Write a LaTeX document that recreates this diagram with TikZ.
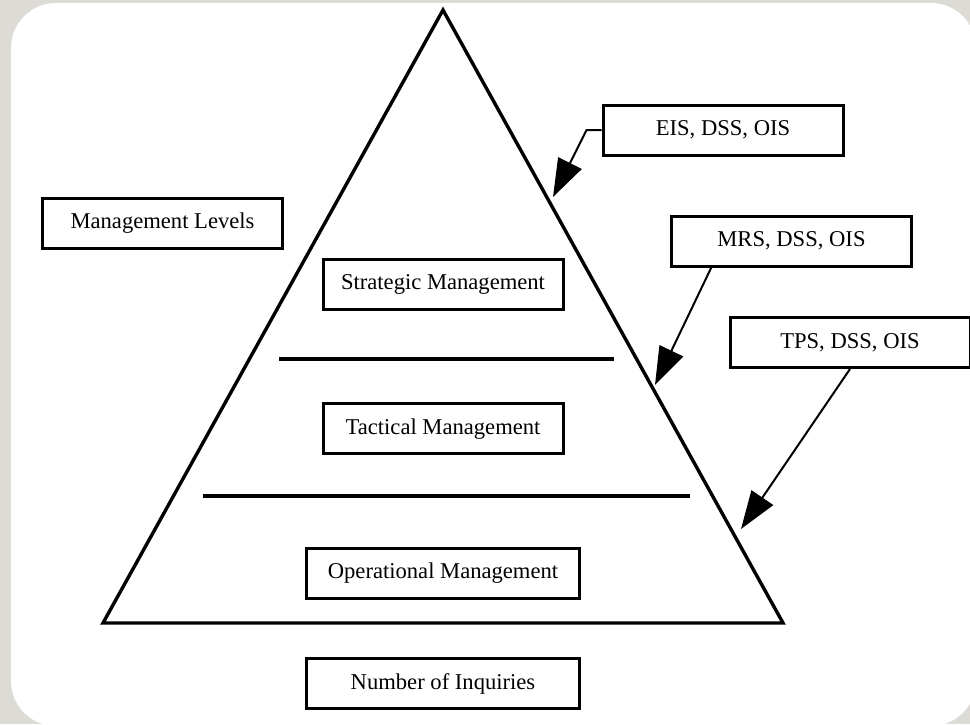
\documentclass[tikz,border=0pt]{standalone}
\usepackage{fontspec}
\setmainfont{Liberation Serif}
\usetikzlibrary{arrows.meta,positioning,calc}
\definecolor{slidegrey}{RGB}{221,219,214}
\tikzset{
    %Define standard arrow tip
    >={Triangle[length=19pt,width=13pt]},
    %Define style for boxes
    levelbox/.style={
		rectangle,
		draw=black, line width=1.5pt,
		minimum width=120pt,
		minimum height=25pt,
		inner sep=0pt,
		font=\fontsize{11.3}{13.5}\selectfont,
		text centered},
	widebox/.style={
		levelbox,
		minimum width=136.5pt},
	pointer/.style = {
		->,
		draw,
		line width=1pt},
	tier/.style = {
		draw,
		line width=1.7pt}
}

\begin{document}
\begin{tikzpicture}[x=0.5pt, y=-0.5pt, node distance=45.8pt]
			\useasboundingbox (0,0) rectangle (970,724);
			% slide background
			\fill[slidegrey] (0,0) rectangle (970,724);
			\fill[white, rounded corners=22.5pt] (11,3) rectangle (976,726);
			% pyramid
			\coordinate (apex) at (443,10);
			\coordinate (baseL) at (103,623);
			\coordinate (baseR) at (783,623);
			\draw[tier] (apex) -- (baseR) -- (baseL) -- cycle;
			\draw[tier] (279,359) -- (614,359);
			\draw[tier] (203,496) -- (690,496);
			% levels
			\node[levelbox] at (443,284)	(strategic)	{Strategic Management};
			\node[levelbox, below=of strategic]	(tactical)	{Tactical Management};
			\node[widebox, below=of tactical]	(operational)	{Operational Management};
			\node[widebox, below=28.8pt of operational]	(inquiries)	{Number of Inquiries};
			\node[levelbox] at (162.5,223.5)	(levels)	{Management Levels};
			% systems
			\node[levelbox] at (723,130)	(eis)	{EIS, DSS, OIS};
			\node[levelbox] at (791.5,241)	(mrs)	{MRS, DSS, OIS};
			\node[levelbox] at (850,342.5)	(tps)	{TPS, DSS, OIS};
			\coordinate (eisTip) at (553,197);
			\coordinate (mrsTip) at (655,385);
			\coordinate (tpsTip) at (741,529);
			\path[pointer]	(eis.west) -- ++(-15,0) -- (eisTip);
			\path[pointer]	($(mrs.south west)!0.17!(mrs.south east)$) -- (mrsTip);
			\path[pointer]	(tps.south) -- (tpsTip);
		\end{tikzpicture}
\end{document}
